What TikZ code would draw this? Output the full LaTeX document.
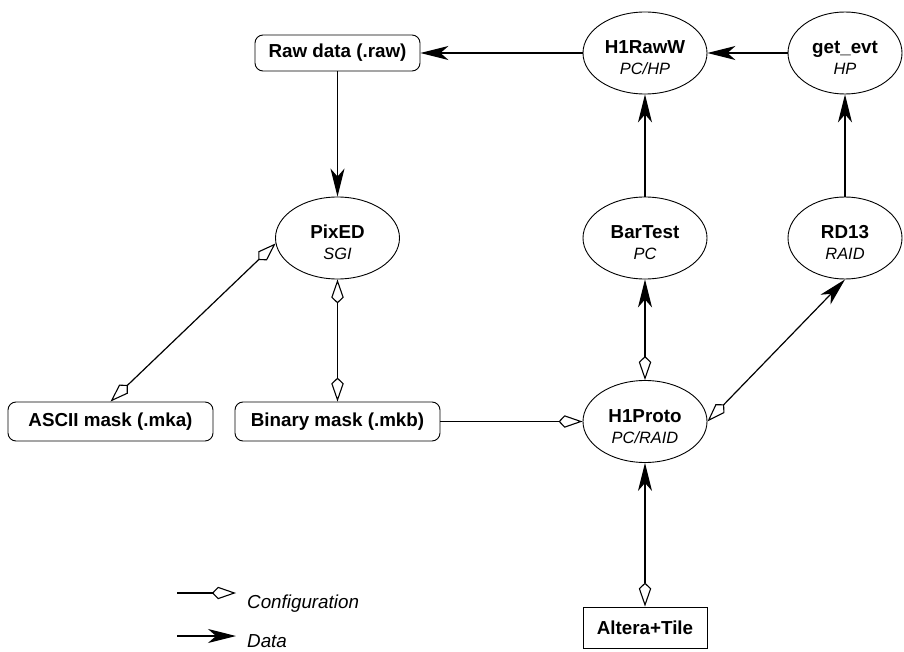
\documentclass[tikz,border=0pt]{standalone}
\usepackage{fontspec}
\setmainfont{Liberation Sans}
\usetikzlibrary{shapes.geometric,arrows.meta}
\tikzset{
  datatip/.tip={Stealth[length=28pt,width=14pt,inset=8pt]},
  cfgtip/.tip={Kite[open,length=24pt,width=12.5pt,inset=6pt,line width=1.1pt]},
  proc/.style={ellipse,draw,line width=0.9pt,minimum width=124pt,minimum height=82pt,inner sep=0pt,align=center},
  procn/.style={proc,minimum width=114pt},
  filebox/.style={draw,rounded corners=8pt,line width=0.9pt,minimum width=205pt,minimum height=39pt,inner sep=0pt,font=\fontsize{18.8}{22}\selectfont\bfseries},
  hwbox/.style={draw,line width=0.9pt,minimum width=124pt,minimum height=41pt,inner sep=0pt,font=\fontsize{18.8}{22}\selectfont\bfseries},
  conn/.style={line width=1.2pt},
  legtext/.style={anchor=base west,inner sep=0pt,font=\fontsize{18.8}{22}\selectfont\itshape}
}
\newcommand{\proclabel}[2]{\fontsize{18.8}{21}\selectfont\raisebox{-7pt}[\height][\depth]{\begin{tabular}{@{}c@{}}\bfseries #1\\\fontsize{16.4}{21}\selectfont\itshape #2\end{tabular}}}
\begin{document}
\begin{tikzpicture}[x=1pt,y=-1pt]
\useasboundingbox (0,0) rectangle (904,652);
% nodes
\node[filebox,minimum width=165pt,minimum height=36pt] (raw) at (337.5,53) {Raw data (.raw)};
\node[proc] (h1raww) at (645,53) {\proclabel{H1RawW}{PC/HP}};
\node[procn] (getevt) at (845,53) {\proclabel{get\_evt}{HP}};
\node[proc] (pixed) at (337.5,238) {\proclabel{PixED}{SGI}};
\node[proc] (bartest) at (645,238) {\proclabel{BarTest}{PC}};
\node[procn] (rd13) at (845,238) {\proclabel{RD13}{RAID}};
\node[proc] (h1proto) at (645,421.5) {\proclabel{H1Proto}{PC/RAID}};
\node[filebox] (ascii) at (110.5,421.5) {ASCII mask (.mka)};
\node[filebox] (binary) at (337.5,421.5) {Binary mask (.mkb)};
\node[hwbox] (altera) at (645,627.5) {Altera+Tile};
% data flow
\draw[conn,-datatip] (h1raww) -- (raw);
\draw[conn,-datatip] (getevt) -- (h1raww);
\draw[conn,-datatip] (raw) -- (pixed);
\draw[conn,-datatip] (bartest) -- (h1raww);
\draw[conn,-datatip] (rd13) -- (getevt);
\draw[conn,cfgtip-datatip] (h1proto) -- (bartest);
\draw[conn,cfgtip-datatip] (h1proto.east) -- (rd13.south);
\draw[conn,cfgtip-datatip] (altera) -- (h1proto);
% configuration
\draw[conn,cfgtip-cfgtip] (pixed) -- (binary);
\draw[conn,cfgtip-cfgtip] (ascii.north) -- (pixed.185);
\draw[conn,-cfgtip] (binary) -- (h1proto);
% legend
\coordinate (c1) at (177,593);
\coordinate (c2) at (236,593);
\coordinate (d1) at (177,636);
\coordinate (d2) at (236,636);
\draw[conn,-cfgtip] (c1) -- (c2);
\draw[conn,-datatip] (d1) -- (d2);
\node[legtext] (lconf) at (247,608) {Configuration};
\node[legtext] (ldata) at (247,647) {Data};
\end{tikzpicture}
\end{document}
